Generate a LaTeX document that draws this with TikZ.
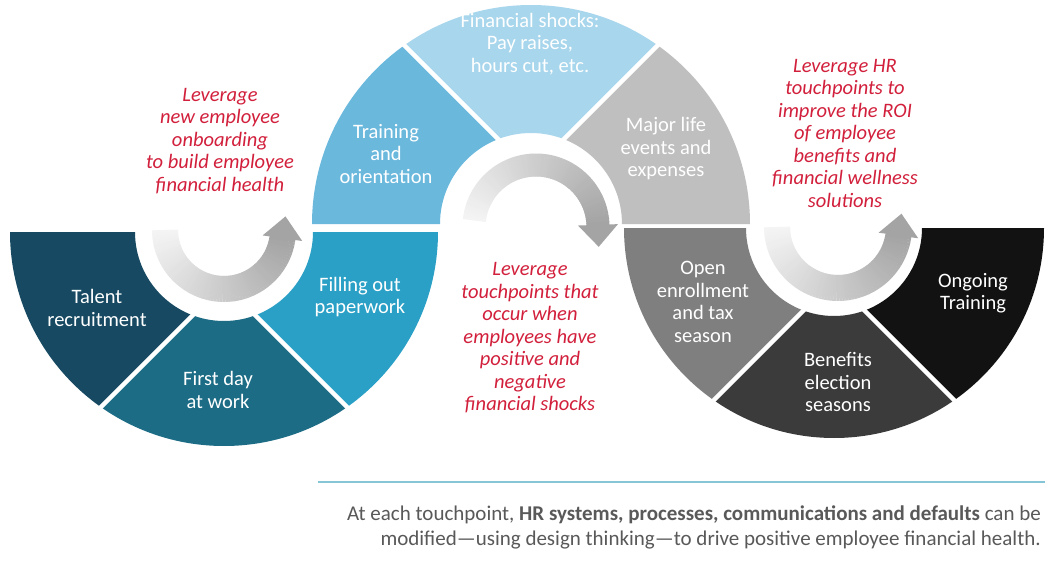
\documentclass[tikz,border=0pt]{standalone}
\usepackage{fontspec}
\setmainfont{Carlito}
\usetikzlibrary{calc}
% segment colours
\definecolor{cTalent}{HTML}{174A62}
\definecolor{cFirst}{HTML}{1C6C86}
\definecolor{cFilling}{HTML}{2AA0C6}
\definecolor{cTraining}{HTML}{6BB8DD}
\definecolor{cShocks}{HTML}{A8D6EC}
\definecolor{cMajor}{HTML}{BFBFBF}
\definecolor{cOpen}{HTML}{7F7F7F}
\definecolor{cBenefits}{HTML}{3B3B3B}
\definecolor{cOngoing}{HTML}{121212}
\definecolor{cRed}{RGB}{210,32,60}
\definecolor{cNote}{HTML}{595959}
\definecolor{cRule}{HTML}{86C5D5}
\definecolor{arrowlight}{HTML}{F4F4F4}
\definecolor{arrowdark}{HTML}{A4A4A4}

\begin{document}
\begin{tikzpicture}[x=1pt,y=-1pt,
  seglabel/.style={text=white, align=center, inner sep=0pt,
    font=\fontsize{20.5}{22.5}\selectfont},
  redlabel/.style={text=cRed, align=center, inner sep=0pt,
    font=\fontsize{20.5}{22.5}\selectfont\itshape},
  divider/.style={white, line width=4.5pt},
  ring/.style={even odd rule},
]
\fill[white] (0,0) rectangle (1045,567);
\useasboundingbox (0,0) rectangle (1045,567);

% ---------- left half ring (opens upward) ----------
\begin{scope}[shift={(224,232)}]
  \begin{scope}
    \clip (-240,0) -- (52,0) -- (-260,312) -- cycle;
    \fill[cTalent, ring] (0,0) circle (214) (0,0) circle (89);
  \end{scope}
  \begin{scope}
    \clip (0,52) -- (-260,312) -- (260,312) -- cycle;
    \fill[cFirst, ring] (0,0) circle (214) (0,0) circle (89);
  \end{scope}
  \begin{scope}
    \clip (240,0) -- (-52,0) -- (260,312) -- cycle;
    \fill[cFilling, ring] (0,0) circle (214) (0,0) circle (89);
  \end{scope}
  \draw[divider] (0,52) -- (-135,187);
  \draw[divider] (0,52) -- (135,187);
\end{scope}

% ---------- middle half ring (opens downward) ----------
\begin{scope}[shift={(531,224)}]
  \begin{scope}
    \clip (-240,0) -- (52,0) -- (-260,-312) -- cycle;
    \fill[cTraining, ring] (0,0) circle (219) (0,0) circle (91);
  \end{scope}
  \begin{scope}
    \clip (0,-52) -- (-260,-312) -- (260,-312) -- cycle;
    \fill[cShocks, ring] (0,0) circle (219) (0,0) circle (91);
  \end{scope}
  \begin{scope}
    \clip (240,0) -- (-52,0) -- (260,-312) -- cycle;
    \fill[cMajor, ring] (0,0) circle (219) (0,0) circle (91);
  \end{scope}
  \draw[divider] (0,-52) -- (-140,-192);
  \draw[divider] (0,-52) -- (140,-192);
\end{scope}

% ---------- right half ring (opens upward) ----------
\begin{scope}[shift={(834,228)}]
  \begin{scope}
    \clip (-240,0) -- (52,0) -- (-260,312) -- cycle;
    \fill[cOpen, ring] (0,0) circle (210) (0,0) circle (88);
  \end{scope}
  \begin{scope}
    \clip (0,52) -- (-260,312) -- (260,312) -- cycle;
    \fill[cBenefits, ring] (0,0) circle (210) (0,0) circle (88);
  \end{scope}
  \begin{scope}
    \clip (240,0) -- (-52,0) -- (260,312) -- cycle;
    \fill[cOngoing, ring] (0,0) circle (210) (0,0) circle (88);
  \end{scope}
  \draw[divider] (0,52) -- (-135,187);
  \draw[divider] (0,52) -- (135,187);
\end{scope}

% ---------- curved shaded arrows inside the rings ----------
% left: runs from the left, under the bottom, and up on the right
\begin{scope}[shift={(224,230)}]
  \foreach \i in {0,...,71} {
    \pgfmathsetmacro\aa{180-\i*172/72}
    \pgfmathsetmacro\ab{180-(\i+1)*172/72-0.6}
    \pgfmathtruncatemacro\mix{100*\i/71}
    \draw[line width=26pt, draw=arrowdark!\mix!arrowlight]
      (\aa:59) arc[start angle=\aa, end angle=\ab, radius=59];
  }
  \fill[arrowdark] (8:79) -- (8:39) -- ($(8:59)+(-82:22)$) -- cycle;
\end{scope}

% middle: runs from the left, over the top, and down on the right
\begin{scope}[shift={(536,227)}]
  \foreach \i in {0,...,71} {
    \pgfmathsetmacro\aa{186+\i*172/72}
    \pgfmathsetmacro\ab{186+(\i+1)*172/72+0.6}
    \pgfmathtruncatemacro\mix{100*\i/71}
    \draw[line width=23pt, draw=arrowdark!\mix!arrowlight]
      (\aa:62) arc[start angle=\aa, end angle=\ab, radius=62];
  }
  \fill[arrowdark] (358:82) -- (358:42) -- ($(358:62)+(88:22)$) -- cycle;
\end{scope}

% right: same sense as the left one
\begin{scope}[shift={(838,227)}]
  \foreach \i in {0,...,71} {
    \pgfmathsetmacro\aa{180-\i*172/72}
    \pgfmathsetmacro\ab{180-(\i+1)*172/72-0.6}
    \pgfmathtruncatemacro\mix{100*\i/71}
    \draw[line width=26pt, draw=arrowdark!\mix!arrowlight]
      (\aa:61) arc[start angle=\aa, end angle=\ab, radius=61];
  }
  \fill[arrowdark] (8:81) -- (8:41) -- ($(8:61)+(-82:22)$) -- cycle;
\end{scope}

% ---------- segment labels ----------
\node[seglabel] (talent)   at (97,308)  {Talent\\recruitment};
\node[seglabel] (firstday) at (218,390) {First day\\at work};
\node[seglabel] (filling)  at (360,297) {Filling out\\paperwork};
\node[seglabel] (training) at (386,154) {Training\\and\\orientation};
\node[seglabel] (shocks)   at (530,44)  {Financial shocks:\\Pay raises,\\hours cut, etc.};
\node[seglabel] (major)    at (666,149) {Major life\\events and\\expenses};
\node[seglabel] (open)     at (703,302) {Open\\enrollment\\and tax\\season};
\node[seglabel] (benefits) at (838,382) {Benefits\\election\\seasons};
\node[seglabel] (ongoing)  at (973,293) {Ongoing\\Training};

% ---------- red notes ----------
\node[redlabel] (noteleft)  at (220,141) {Leverage\\new employee\\onboarding\\to build employee\\financial health};
\node[redlabel] (notemid)   at (530,338) {Leverage\\touchpoints that\\occur when\\employees have\\positive and\\negative\\financial shocks};
\node[redlabel] (noteright) at (845,133) {Leverage HR\\touchpoints to\\improve the ROI\\of employee\\benefits and\\financial wellness\\solutions};

% ---------- footer ----------
\coordinate (ruleL) at (318,482);
\coordinate (ruleR) at (1045,482);
\draw[cRule, line width=1.5pt] (ruleL) -- (ruleR);
\node[anchor=east, align=right, text=cNote, inner sep=0pt,
      font=\fontsize{21}{25}\selectfont] (footer) at (1041,527)
  {At each touchpoint, \textbf{HR systems, processes, communications and defaults} can be\\
   modified—using design thinking—to drive positive employee financial health.};
\end{tikzpicture}
\end{document}
